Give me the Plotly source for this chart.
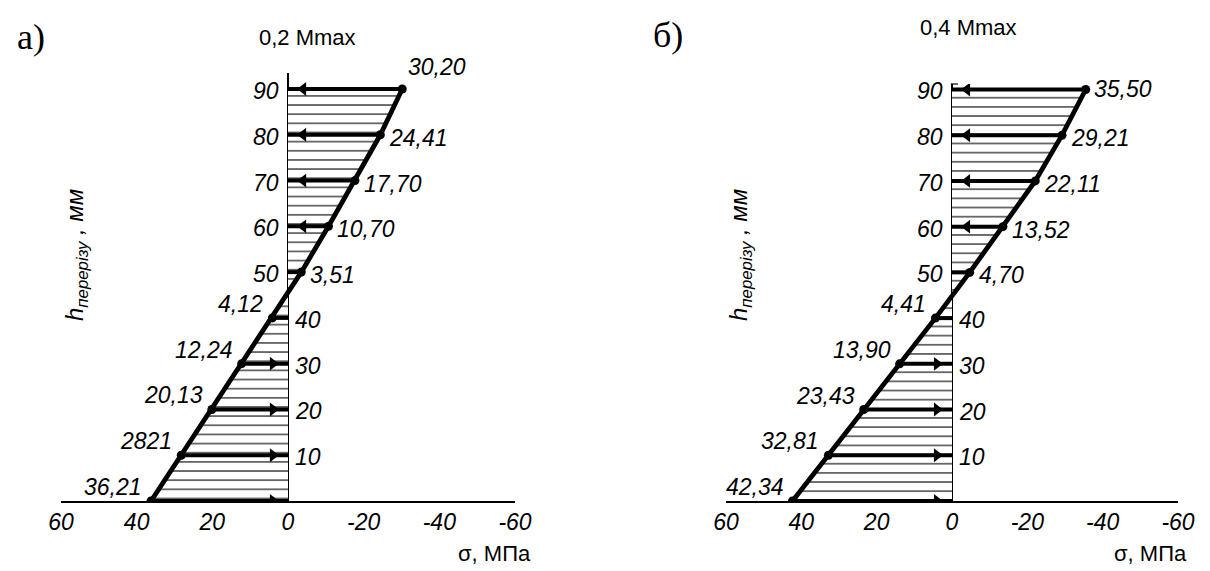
import plotly.graph_objects as go

# ---------------- data ----------------
h_levels = [0, 10, 20, 30, 40, 50, 60, 70, 80, 90]
sigma_a = [36.21, 28.21, 20.13, 12.24, 4.12, -3.51, -10.70, -17.70, -24.41, -30.20]
sigma_b = [42.34, 32.81, 23.43, 13.90, 4.41, -4.70, -13.52, -22.11, -29.21, -35.50]
labels_a = ["36,21", "2821", "20,13", "12,24", "4,12", "3,51", "10,70", "17,70", "24,41", "30,20"]
labels_b = ["42,34", "32,81", "23,43", "13,90", "4,41", "4,70", "13,52", "22,11", "29,21", "35,50"]
h_tick_text = ["", "10", "20", "30", "40", "50", "60", "70", "80", "90"]
x_tick_vals = [60, 50, 40, 30, 20, 10, 0, -10, -20, -30, -40, -50, -60]
x_label_vals = [60, 40, 20, 0, -20, -40, -60]
x_label_text = ["60", "40", "20", "0", "-20", "-40", "-60"]
panel_titles = ["0,2 Mmax", "0,4 Mmax"]
panel_letters = ["а)", "б)"]
x_title = "σ, МПа"
y_title = "h<sub>перерізу</sub> , мм"

# ---------------- style ----------------
W, H = 1210, 571
SANS = "Liberation Sans, Arial, sans-serif"
SERIF = "Liberation Serif, DejaVu Serif, serif"
ITAL = dict(family=SANS, size=23, color="black", style="italic")
UPR = dict(family=SANS, size=22, color="black")

def px_x(p):
    return p / W

def px_y(p):
    return (H - p) / H

panels = [
    dict(sig=sigma_a, lab=labels_a, xd=[61, 515], ytop=93.5, top_shift=(4, 22),
         title_xy=(308, 38), letter_xy=(31, 37), ytitle_xy=(76, 255), xtitle_xy=(494, 553), cap=False),
    dict(sig=sigma_b, lab=labels_b, xd=[726, 1178], ytop=91.2, top_shift=(6, 0),
         title_xy=(968, 28), letter_xy=(668, 35), ytitle_xy=(740, 255), xtitle_xy=(1150, 553), cap=True),
]

fig = go.Figure()
annotations = []
shapes = []
layout = {}

for i, p in enumerate(panels):
    n = i + 1
    xa = "x" if n == 1 else f"x{n}"
    ya = "y" if n == 1 else f"y{n}"
    sig = p["sig"]

    # hatched area between axis and stress line
    fig.add_trace(go.Scatter(
        x=sig, y=h_levels, xaxis=xa, yaxis=ya, mode="lines",
        line=dict(width=0, color="black"), fill="tozerox",
        fillpattern=dict(shape="-", size=9.15, solidity=0.12, fgcolor="black",
                         bgcolor="white", fgopacity=1),
        hoverinfo="skip"))

    # arrow shafts at every level
    sx, sy = [], []
    for s, h in zip(sig, h_levels):
        sx += [0, s, None]
        sy += [h, h, None]
    fig.add_trace(go.Scatter(x=sx, y=sy, xaxis=xa, yaxis=ya, mode="lines",
                             line=dict(width=4, color="black"), hoverinfo="skip"))

    # arrowheads near the axis
    ax_, ay_, asym = [], [], []
    for s, h in zip(sig, h_levels):
        if abs(s) > 8:
            ax_.append(4.0 if s > 0 else -4.0)
            ay_.append(h)
            asym.append("triangle-right" if s > 0 else "triangle-left")
    fig.add_trace(go.Scatter(x=ax_, y=ay_, xaxis=xa, yaxis=ya, mode="markers",
                             marker=dict(symbol=asym, size=12, color="black"),
                             hoverinfo="skip"))

    # stress polyline
    fig.add_trace(go.Scatter(x=sig, y=h_levels, xaxis=xa, yaxis=ya, mode="lines+markers",
                             line=dict(width=4.8, color="black"),
                             marker=dict(size=9, color="black"), hoverinfo="skip"))

    # axes
    dom_y = [px_y(501), px_y(73 if n == 1 else 84)]
    layout[f"xaxis{'' if n == 1 else n}"] = dict(
        domain=[px_x(p["xd"][0]), px_x(p["xd"][1])], range=[60, -60], anchor=ya,
        showline=True, linecolor="black", linewidth=1.5, automargin=False,
        tickmode="array", tickvals=x_label_vals, ticktext=x_label_text,
        ticks="", tickfont=ITAL, showgrid=False,
        zeroline=True, zerolinecolor="black", zerolinewidth=1.5, fixedrange=True)
    layout[f"yaxis{'' if n == 1 else n}"] = dict(
        domain=dom_y, range=[0, p["ytop"]], anchor=xa, showgrid=False, zeroline=False,
        showline=False, showticklabels=False, ticks="", fixedrange=True, automargin=False)
    # crossing ticks: outside part and inside part from overlaid axes
    for k, (tk, tl) in enumerate([("outside", 5), ("inside", 3)]):
        ov = 3 + 2 * i + k
        layout[f"xaxis{ov}"] = dict(
            overlaying=xa, anchor=ya, range=[60, -60], tickmode="array", tickvals=x_tick_vals,
            ticks=tk, ticklen=tl, tickwidth=1.2, tickcolor="black", showticklabels=False,
            showline=False, showgrid=False, zeroline=False, fixedrange=True, automargin=False)

    if p["cap"]:
        shapes.append(dict(type="line", xref=xa, yref=f"{ya} domain", x0=0.3, x1=-1.6, y0=1, y1=1,
                           line=dict(color="black", width=1.2)))

    # point labels
    top = max(h_levels)
    for s, h, t in zip(sig, h_levels, p["lab"]):
        if h == top:
            dx, dy = p["top_shift"]
            annotations.append(dict(x=s, y=h, xref=xa, yref=ya, text=t, showarrow=False,
                                    xanchor="left", yanchor="middle", xshift=dx, yshift=dy, font=ITAL))
        elif s > 0:
            annotations.append(dict(x=s, y=h, xref=xa, yref=ya, text=t, showarrow=False,
                                    xanchor="right", yanchor="middle", xshift=-7, yshift=14, font=ITAL))
        else:
            annotations.append(dict(x=s, y=h, xref=xa, yref=ya, text=t, showarrow=False,
                                    xanchor="left", yanchor="middle", xshift=7, yshift=-3, font=ITAL))

    # h tick labels on the side opposite to the diagram
    for s, h, t in zip(sig, h_levels, h_tick_text):
        if not t:
            continue
        if s < 0:
            annotations.append(dict(x=0, y=h, xref=xa, yref=ya, text=t, showarrow=False,
                                    xanchor="right", yanchor="middle", xshift=-7, yshift=-2, font=ITAL))
        else:
            annotations.append(dict(x=0, y=h, xref=xa, yref=ya, text=t, showarrow=False,
                                    xanchor="left", yanchor="middle", xshift=5, yshift=-2, font=ITAL))

    # titles and captions
    tx, ty = p["title_xy"]
    annotations.append(dict(x=px_x(tx), y=px_y(ty), xref="paper", yref="paper", text=panel_titles[i],
                            showarrow=False, xanchor="center", yanchor="middle", font=UPR))
    lx, ly = p["letter_xy"]
    annotations.append(dict(x=px_x(lx), y=px_y(ly), xref="paper", yref="paper", text=panel_letters[i],
                            showarrow=False, xanchor="center", yanchor="middle",
                            font=dict(family=SERIF, size=36, color="black")))
    yx, yy = p["ytitle_xy"]
    annotations.append(dict(x=px_x(yx), y=px_y(yy), xref="paper", yref="paper", text=y_title,
                            showarrow=False, xanchor="center", yanchor="middle", textangle=-90,
                            font=dict(family=SANS, size=24, color="black", style="italic")))
    gx, gy = p["xtitle_xy"]
    annotations.append(dict(x=px_x(gx), y=px_y(gy), xref="paper", yref="paper", text=x_title,
                            showarrow=False, xanchor="center", yanchor="middle", font=UPR))

fig.update_layout(
    template="none",
    width=W, height=H, margin=dict(l=0, r=0, t=0, b=0, pad=0), autosize=False,
    paper_bgcolor="white", plot_bgcolor="white", showlegend=False,
    annotations=annotations, shapes=shapes, **layout)

fig.write_html("out.html", config={"displayModeBar": False},
               post_script="document.body.style.margin='0';document.body.style.overflow='hidden';")
